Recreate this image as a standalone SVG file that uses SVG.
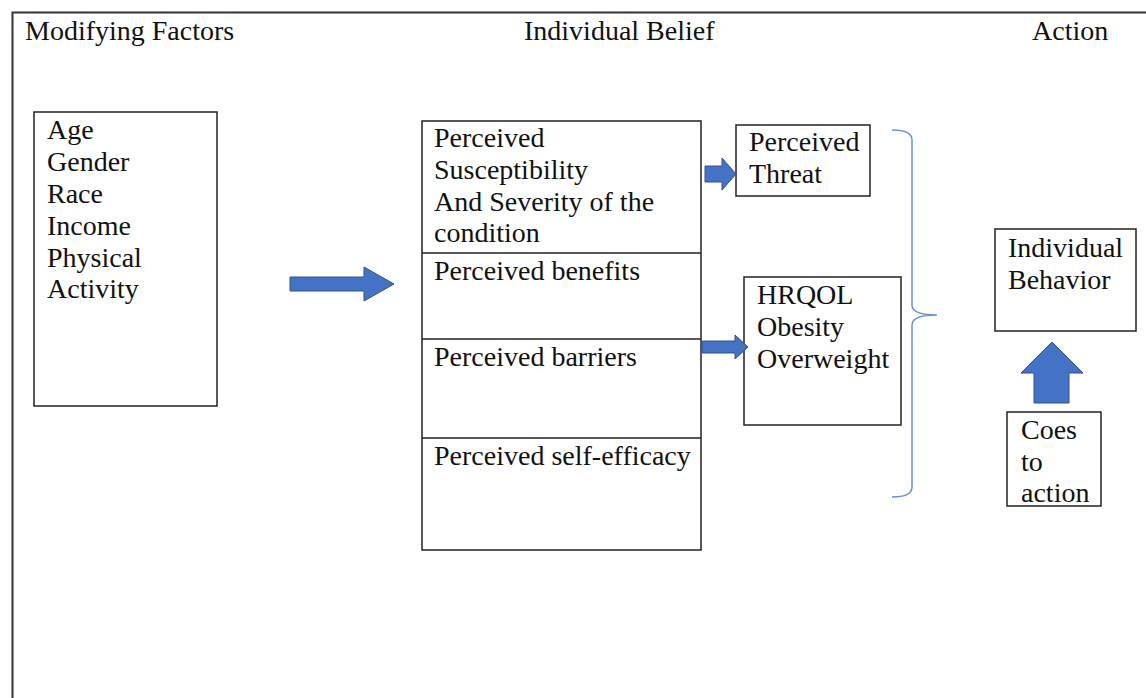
<svg xmlns="http://www.w3.org/2000/svg" width="1146" height="698" viewBox="0 0 1146 698">
<style>
text{font-family:'Liberation Serif','Times New Roman',serif;font-size:28px;fill:#111}
.box{fill:#fff;stroke:#222;stroke-width:1.5}
.arr{fill:#4472C4;stroke:#2F528F;stroke-width:1}
.brace{fill:none;stroke:#6B8FD4;stroke-width:1.5}
</style>
<rect x="0" y="0" width="1146" height="698" fill="#fff"/>
<rect x="12.5" y="12.5" width="1145" height="700" fill="none" stroke="#333" stroke-width="2"/>
<g id="titles">
<text x="25" y="40">Modifying Factors</text>
<text x="524" y="40">Individual Belief</text>
<text x="1032" y="40">Action</text>
</g>
<g id="modifying">
<rect class="box" x="34" y="112" width="183" height="294"/>
<text x="47" y="139">Age</text>
<text x="47" y="171">Gender</text>
<text x="47" y="203">Race</text>
<text x="47" y="235">Income</text>
<text x="47" y="267">Physical</text>
<text x="47" y="298">Activity</text>
</g>
<g id="beliefs">
<rect class="box" x="422" y="121" width="279" height="429"/>
<line x1="422" y1="253" x2="701" y2="253" stroke="#222" stroke-width="1.5"/>
<line x1="422" y1="339" x2="701" y2="339" stroke="#222" stroke-width="1.5"/>
<line x1="422" y1="438" x2="701" y2="438" stroke="#222" stroke-width="1.5"/>
<text x="434" y="147">Perceived</text>
<text x="434" y="179">Susceptibility</text>
<text x="434" y="211">And Severity of the</text>
<text x="434" y="242">condition</text>
<text x="434" y="280">Perceived benefits</text>
<text x="434" y="366">Perceived barriers</text>
<text x="434" y="465">Perceived self-efficacy</text>
</g>
<g id="threat">
<rect class="box" x="736" y="125" width="134" height="71"/>
<text x="749" y="151">Perceived</text>
<text x="749" y="183">Threat</text>
</g>
<g id="hrqol">
<rect class="box" x="744" y="277" width="157" height="148"/>
<text x="757" y="304">HRQOL</text>
<text x="757" y="336">Obesity</text>
<text x="757" y="368">Overweight</text>
</g>
<g id="behavior">
<rect class="box" x="995" y="229" width="141" height="102"/>
<text x="1008" y="257">Individual</text>
<text x="1008" y="289">Behavior</text>
</g>
<g id="cues">
<rect class="box" x="1007" y="412" width="94" height="94"/>
<text x="1021" y="439">Coes</text>
<text x="1021" y="471">to</text>
<text x="1021" y="502">action</text>
</g>
<g id="connectors">
<path class="arr" d="M290,277 H364 V267 L394,284 L364,301 V291 H290 Z"/>
<path class="arr" d="M705,166 H722 V158 L736,174 L722,190 V182 H705 Z"/>
<path class="arr" d="M702,341 H735 V335 L748,347 L735,359 V353 H702 Z"/>
<path class="arr" d="M1034,403 V373 H1021 L1052,342 L1083,373 H1069 V403 Z"/>
<path class="brace" d="M892,130 Q912,130 912,140 V305 Q912,315 937,315 Q912,315 912,325 V487 Q912,497 892,497"/>
</g>
</svg>
